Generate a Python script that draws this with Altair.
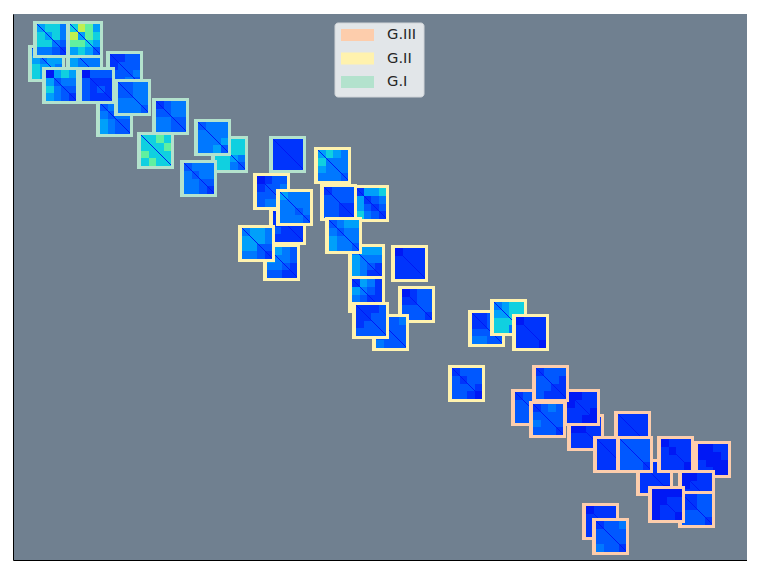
import altair as alt
import pandas as pd

# Thumbnail centres (figure pixels), one list per group, in drawing order.
g1_x = [46.5, 85, 124.5, 51.5, 85, 114.5, 60.5, 96.5, 132.5, 170.5, 155.5, 229.5, 212.5, 198.5, 287.5]
g1_y = [63.5, 63.5, 69.5, 39.5, 39.5, 118.5, 85.5, 85.5, 97.5, 116.5, 150.5, 154.5, 137.5, 178.5, 154.5]
g1_tones = ["4566455544", "4555444443", "2233333343", "5664564432", "6875576653",
            "3455344333", "1565344332", "1333222322", "3344344443", "2344344333",
            "6676667666", "5666566543", "3444444453", "3444344332", "2222222222"]

g2_x = [287.5, 271.5, 281.5, 256.5, 294.5, 332.5, 370.5, 338.5, 366.5, 343.5,
        366.5, 416.5, 390.5, 370.5, 409.5, 486.5, 508.5, 530.5, 466.5]
g2_y = [226.5, 191.5, 262.5, 243.5, 207.5, 165.5, 203.5, 202.5, 262.5, 235.5,
        294.5, 304.5, 332.5, 320.5, 263.5, 328.5, 317.5, 332.5, 383.5]
g2_tones = ["2232222222", "1233334344", "3543443322", "4554554332", "5444444343",
            "5654444443", "2556234232", "2333333222", "4555444322", "3455344443",
            "2542432222", "1233233332", "2334333333", "2223233333", "1222222222",
            "2234234333", "4566566643", "1222222221", "2333233321"]

g3_x = [529.5, 585.5, 581.5, 550.5, 547.5, 632.5, 654.5, 611.5, 634.5, 675.5,
        712.5, 696.5, 696.5, 666.5, 600.5, 610.5]
g3_y = [407.5, 432.5, 407.5, 383.5, 419.5, 429.5, 477.5, 454.5, 454.5, 454.5,
        459.5, 488.5, 509.5, 504.5, 521.5, 536.5]
g3_tones = ["2333333332", "1122122221", "1122222211", "2333332222", "2343333332",
            "2222222221", "2222222221", "2222222222", "3333333332", "1222122221",
            "1122112111", "1122222221", "2233233332", "1111122221", "1222222221",
            "2334333332"]

legend_labels = ["G.III", "G.II", "G.I"]
legend_y = [35, 58.5, 82]

tone_domain = ["G.I", "G.II", "G.III", "0", "1", "2", "3", "4", "5", "6", "7", "8", "9"]
tone_range = ["#b3e2cd", "#fff2ae", "#fdcdac",
              "#0000c8", "#0018f5", "#0034fc", "#0058ff", "#0078ff", "#00a0fa",
              "#10d0e0", "#60f0a0", "#c0f050", "#ffc000"]

SIZE = 37
LEFT_PAD, TOP_PAD = 4, 3
EDGES_X = [0, 8, 15, 23, 30]
EDGES_Y = [0, 8, 16, 23, 31]
PAIRS = [(0, 0), (0, 1), (0, 2), (0, 3), (1, 1), (1, 2), (1, 3), (2, 2), (2, 3), (3, 3)]

rows = []


def add(x0, x1, y0, y1, tone):
    rows.append(dict(idx=len(rows), x0=x0, x1=x1, y0=y0, y1=y1, tone=tone))


for group, xs, ys, tones in [("G.I", g1_x, g1_y, g1_tones),
                             ("G.II", g2_x, g2_y, g2_tones),
                             ("G.III", g3_x, g3_y, g3_tones)]:
    for cx, cy, digits in zip(xs, ys, tones):
        left, top = int(cx - SIZE / 2), int(cy - SIZE / 2)
        add(left, left + SIZE, top, top + SIZE, group)
        ix, iy = left + LEFT_PAD, top + TOP_PAD
        for (i, j), d in zip(PAIRS, digits):
            add(ix + EDGES_X[j], ix + EDGES_X[j + 1], iy + EDGES_Y[i], iy + EDGES_Y[i + 1], d)
            if i != j:
                add(ix + EDGES_X[i], ix + EDGES_X[i + 1], iy + EDGES_Y[j], iy + EDGES_Y[j + 1], d)
        for k in range(30):
            add(ix + k, ix + k + 1, iy + k, iy + k + 1, "1")

df = pd.DataFrame(rows)

xs = alt.Scale(domain=[13, 747], nice=False, zero=False)
ys = alt.Scale(domain=[560, 14], nice=False, zero=False)
cs = alt.Scale(domain=tone_domain, range=tone_range)
frame_axis = alt.Axis(domain=True, domainColor="black", domainWidth=1, ticks=False, labels=False,
                      grid=False, title=None)

thumbs = alt.Chart(df).mark_rect(strokeWidth=0).encode(
    x=alt.X("x0:Q", scale=xs, axis=frame_axis),
    x2="x1:Q",
    y=alt.Y("y0:Q", scale=ys, axis=frame_axis),
    y2="y1:Q",
    color=alt.Color("tone:N", scale=cs, legend=None),
    order="idx:Q",
)

box = alt.Chart(pd.DataFrame([dict(x0=335, x1=424, y0=23, y1=97)])).mark_rect(
    fill="#e2e6e9", stroke="#d0d4d8", strokeWidth=1, cornerRadius=3
).encode(
    x=alt.X("x0:Q", scale=xs, axis=frame_axis), x2="x1:Q",
    y=alt.Y("y0:Q", scale=ys, axis=frame_axis), y2="y1:Q",
)

leg = pd.DataFrame(dict(label=legend_labels, y=legend_y))
leg["y0"] = leg["y"] - 6
leg["y1"] = leg["y"] + 6
leg["x0"] = 341
leg["x1"] = 374
leg["tx"] = 387

swatches = alt.Chart(leg).mark_rect(strokeWidth=0).encode(
    x=alt.X("x0:Q", scale=xs, axis=frame_axis), x2="x1:Q",
    y=alt.Y("y0:Q", scale=ys, axis=frame_axis), y2="y1:Q",
    color=alt.Color("label:N", scale=cs, legend=None),
)

labels = alt.Chart(leg).mark_text(
    align="left", baseline="middle", font="DejaVu Sans", fontSize=14.7, color="#262626"
).encode(
    x=alt.X("tx:Q", scale=xs, axis=frame_axis),
    y=alt.Y("y:Q", scale=ys, axis=frame_axis),
    text="label:N",
)

chart = (thumbs + box + swatches + labels).properties(
    width=734, height=546,
    padding={"left": 5, "top": 6, "right": 0, "bottom": 1},
    background="white",
).configure_view(fill="#708090", stroke=None)

chart.save("out.html", embed_options={"renderer": "svg", "actions": False})
